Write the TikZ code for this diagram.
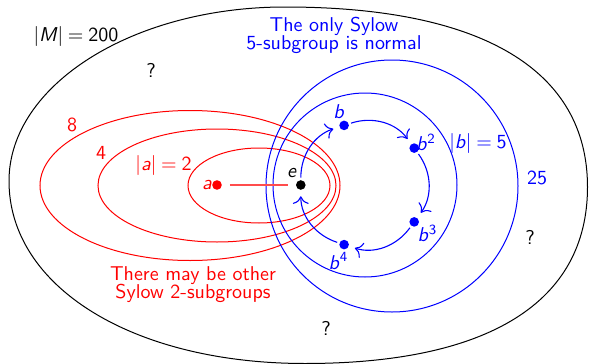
\documentclass[tikz,border=0pt]{standalone}
\usepackage{fontspec}
\usetikzlibrary{arrows.meta}
\newcommand\eqs{\hspace{0.24em}=\hspace{0.24em}}
\begin{document}
\begin{tikzpicture}[x=0.5pt,y=-0.5pt,
  font=\sffamily,
  every path/.style={line width=0.5pt},
  dot/.style={circle,fill,minimum size=4.8pt,inner sep=0pt},
  cyc/.style={-{To[scale=1.35]},blue,line width=0.55pt,bend left=36,shorten <=1pt,shorten >=3pt},
  txt/.style={inner sep=0pt},
  twoline/.style={inner sep=0pt,align=center}
]
\useasboundingbox (0,0) rectangle (589,364);
% outer group M
\draw[black] (9,181) .. controls (9,85) and (133,7) .. (285,7)
  .. controls (482,7) and (587.5,70) .. (587.5,187)
  .. controls (587.5,302) and (489,363.5) .. (305,363.5)
  .. controls (133,363.5) and (9,287) .. (9,181) -- cycle;
% Sylow 2-subgroup chain
\draw[red] (190,185.5) ellipse [x radius=75pt, y radius=37.5pt];
\draw[red] (217,185.5) ellipse [x radius=59.5pt, y radius=28.25pt];
\draw[red] (259,185.5) ellipse [x radius=35.5pt, y radius=18.75pt];
% Sylow 5-subgroup chain
\draw[blue] (365,185) circle [radius=46pt];
\draw[blue] (392,186) circle [radius=63pt];
% elements
\node[dot] (e) at (300.8,185) {};
\node[dot,blue] (b1) at (344.1,125.4) {};
\node[dot,blue] (b2) at (414.2,148.1) {};
\node[dot,blue] (b3) at (414.2,221.9) {};
\node[dot,blue] (b4) at (344.1,244.6) {};
\node[dot,red] (a) at (217,185) {};
\draw[red!70,line width=0.65pt,shorten <=3.8pt,shorten >=3.8pt] (a) -- (e);
\draw[cyc] (e) to (b1);
\draw[cyc] (b1) to (b2);
\draw[cyc] (b2) to (b3);
\draw[cyc] (b3) to (b4);
\draw[cyc] (b4) to (e);
% labels
\node[txt] (lM) at (76,36) {|\textit{M}|\eqs 200};
\node[txt] (q1) at (151,70) {?};
\node[txt] (q2) at (530,237) {?};
\node[txt] (q3) at (326,328) {?};
\node[txt,red] (l8) at (72,125) {8};
\node[txt,red] (l4) at (101,153) {4};
\node[txt,red] (l2) at (163.5,165) {|\textit{a}|\eqs 2};
\node[txt,red] (la) at (207,185) {\textit{a}};
\node[txt] (le) at (292,173) {\textit{e}};
\node[txt,blue] (lb1) at (339,112) {\textit{b}};
\node[txt,blue] (lb2) at (426,142) {\textit{b}\textsuperscript{2}};
\node[txt,blue] (lb3) at (427.5,233) {\textit{b}\textsuperscript{3}};
\node[txt,blue] (lb4) at (338.5,261) {\textit{b}\textsuperscript{4}};
\node[txt,blue] (l5) at (478,143) {|\textit{b}|\eqs 5};
\node[txt,blue] (l25) at (537,178) {25};
\node[twoline,blue] (title) at (334,35.5) {The only Sylow\\[-3pt]5-subgroup is normal};
\node[twoline,red] (other) at (193,285) {There may be other\\[-3pt]Sylow 2-subgroups};
\end{tikzpicture}
\end{document}
